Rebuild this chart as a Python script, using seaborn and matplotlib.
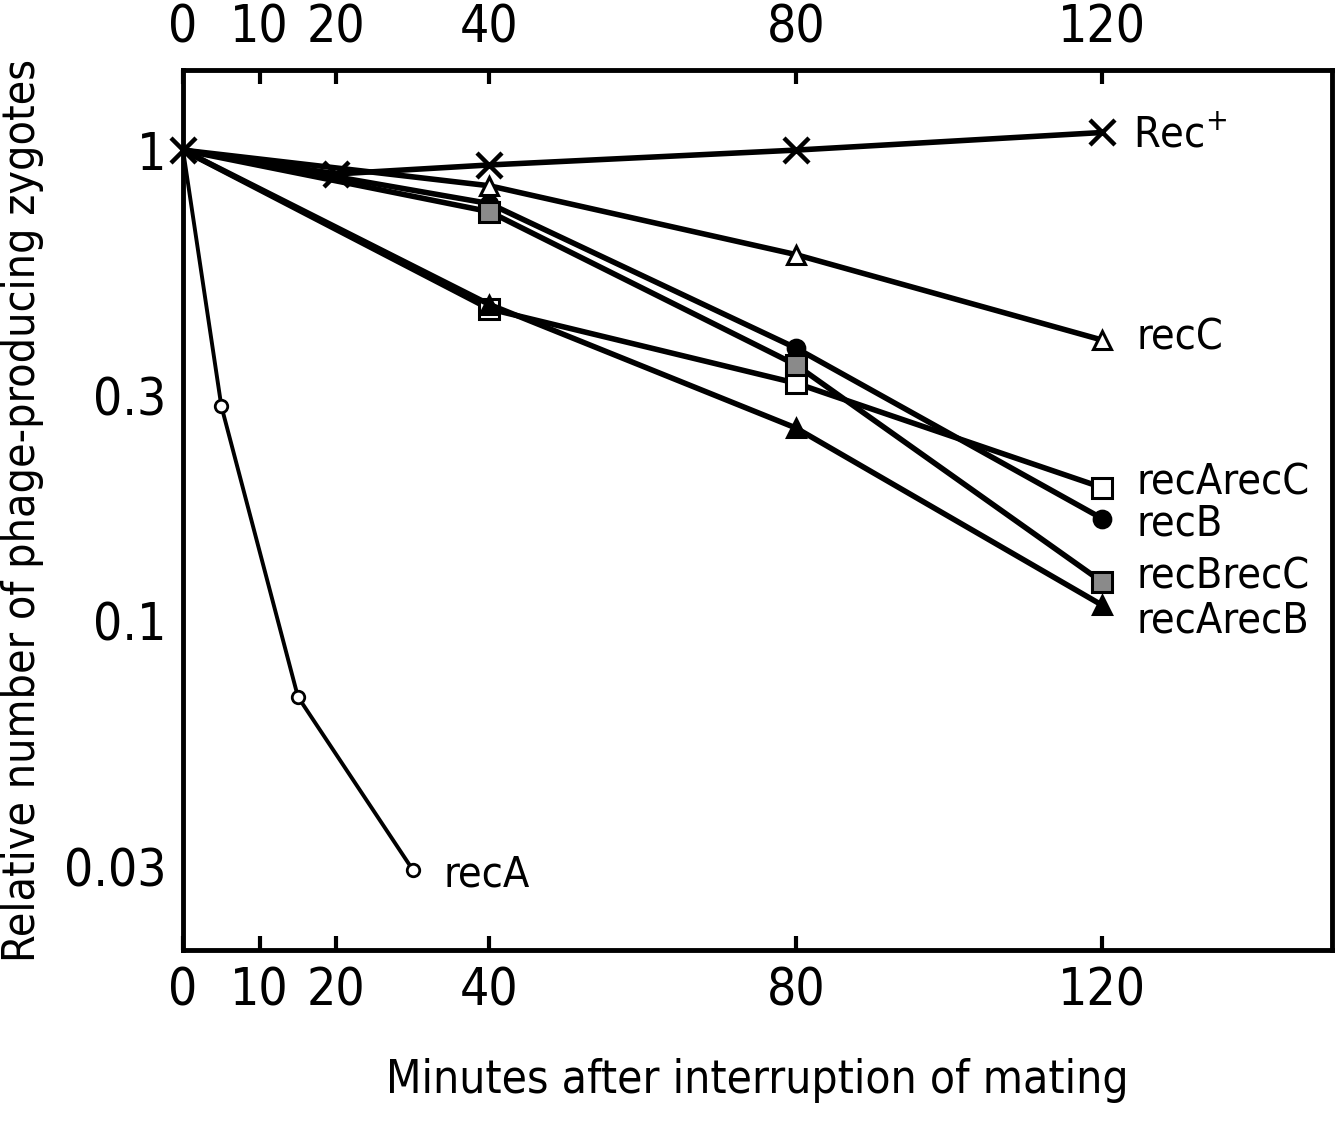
import matplotlib
matplotlib.use("Agg")
import matplotlib.pyplot as plt
import seaborn as sns
import pandas as pd

# data (minutes, relative number)
rec_plus_x = [0, 20, 40, 80, 120]
rec_plus_y = [1.0, 0.89, 0.93, 1.0, 1.09]
recC_x = [0, 40, 80, 120]
recC_y = [1.0, 0.84, 0.60, 0.395]
recArecC_x = [0, 40, 80, 120]
recArecC_y = [1.0, 0.46, 0.32, 0.192]
recB_x = [0, 40, 80, 120]
recB_y = [1.0, 0.77, 0.38, 0.165]
recBrecC_x = [0, 40, 80, 120]
recBrecC_y = [1.0, 0.74, 0.35, 0.121]
recArecB_x = [0, 40, 80, 120]
recArecB_y = [1.0, 0.47, 0.257, 0.108]
recA_x = [0, 5, 15, 30]
recA_y = [1.0, 0.286, 0.069, 0.0296]

x_ticks = [0, 10, 20, 40, 80, 120]
y_ticks = [1, 0.3, 0.1, 0.03]
y_ticklabels = ["1", "0.3", "0.1", "0.03"]

sns.set_style("ticks")
plt.rcParams['font.family'] = ['DejaVu Sans']
plt.rcParams['font.stretch'] = 'condensed'
plt.rcParams['text.color'] = 'black'
plt.rcParams['xtick.color'] = 'black'
plt.rcParams['ytick.color'] = 'black'
plt.rcParams['axes.labelcolor'] = 'black'
plt.rcParams['axes.edgecolor'] = 'black'

fig = plt.figure(figsize=(13.4, 11.21), dpi=100)
ax = fig.add_axes([0.1366, 0.1525, 0.994 - 0.1366, 0.9376 - 0.1525])

series = [
    ("recC", recC_x, recC_y, "^", "white", 13, 0.40),
    ("recArecC", recArecC_x, recArecC_y, "s", "white", 15, 0.197),
    ("recB", recB_x, recB_y, "o", "black", 12, 0.161),
    ("recBrecC", recBrecC_x, recBrecC_y, "s", "#8a8a8a", 15, 0.124),
    ("recArecB", recArecB_x, recArecB_y, "^", "black", 13, 0.100),
]

for name, xs, ys, mk, face, ms, label_y in series:
    df = pd.DataFrame({"minutes": xs, "rel": ys})
    sns.lineplot(data=df, x="minutes", y="rel", ax=ax, color="black", lw=4,
                 marker=mk, markersize=ms, markerfacecolor=face,
                 markeredgecolor="black", markeredgewidth=2.2,
                 markevery=list(range(1, len(xs))))
    ax.text(124.5, label_y, name, fontsize=31, va="center", ha="left")

df_a = pd.DataFrame({"minutes": recA_x, "rel": recA_y})
sns.lineplot(data=df_a, x="minutes", y="rel", ax=ax, color="black", lw=2.8,
             marker="o", markersize=9, markerfacecolor="white",
             markeredgecolor="black", markeredgewidth=2,
             markevery=list(range(1, len(recA_x))))
ax.text(34, 0.029, "recA", fontsize=31, va="center", ha="left")

df_p = pd.DataFrame({"minutes": rec_plus_x, "rel": rec_plus_y})
sns.lineplot(data=df_p, x="minutes", y="rel", ax=ax, color="black", lw=4,
             marker="x", markersize=18, markeredgewidth=3.2,
             markeredgecolor="black", clip_on=False)
ax.text(124, 1.076, "Rec$^{+}$", fontsize=31, va="center", ha="left")

ax.set_yscale("log")
ax.set_xlim(0, 150)
ax.set_ylim(0.02, 1.48)
ax.set_xticks(x_ticks)
ax.set_xticklabels([str(t) for t in x_ticks])
ax.set_yticks(y_ticks)
ax.set_yticklabels(y_ticklabels)
ax.minorticks_off()
ax.tick_params(axis="x", which="both", direction="in", length=10, width=3,
               labelsize=37, top=True, labeltop=True, pad=12)
ax.tick_params(axis="y", length=0, labelsize=37, pad=12)
ax.set_xlabel("Minutes after interruption of mating", fontsize=33, labelpad=30)
ax.set_ylabel("Relative number of phage-producing zygotes", fontsize=32, labelpad=14)
for sp in ax.spines.values():
    sp.set_linewidth(3.5)
    sp.set_visible(True)

fig.savefig("out.png", dpi=100, facecolor="white")
